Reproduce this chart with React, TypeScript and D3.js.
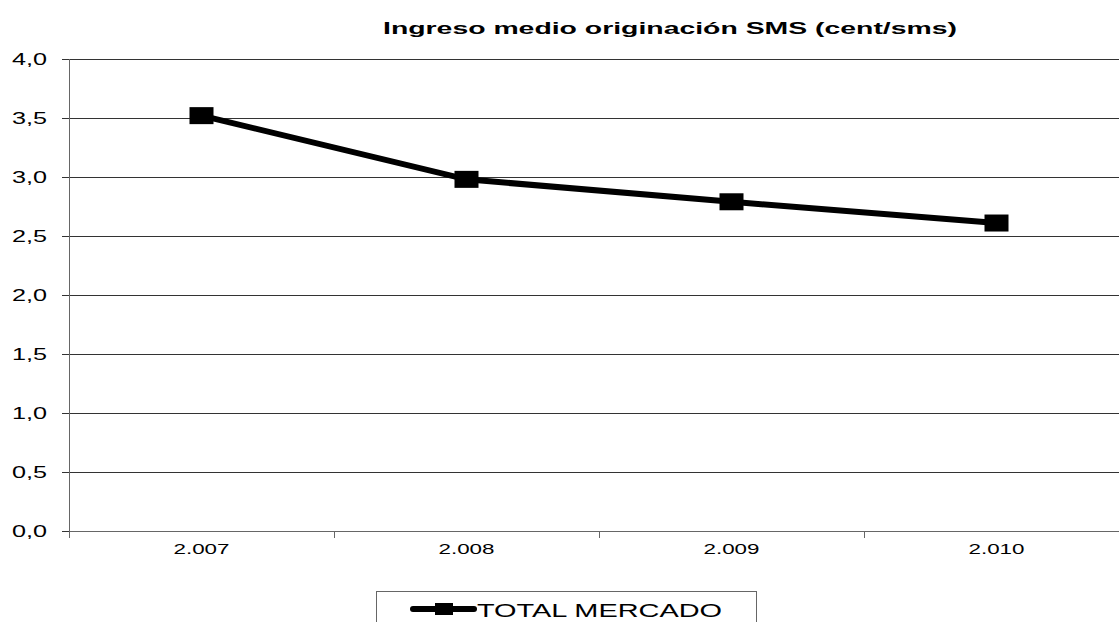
import React from "react";
import * as d3 from "d3";

const years = ["2.007", "2.008", "2.009", "2.010"];
const values = [3.52, 2.98, 2.79, 2.61];
const yTicks = [0, 0.5, 1, 1.5, 2, 2.5, 3, 3.5, 4];
const seriesName = "TOTAL MERCADO";
const title = "Ingreso medio originación SMS (cent/sms)";

export default function App() {
  const W = 1119, H = 622;
  const left = 69, right = 1129, top = 59, bottom = 531;
  const x = d3.scaleBand<string>().domain(years).range([left, right]).padding(0);
  const y = d3.scaleLinear().domain([0, 4]).range([bottom, top]);
  const fmt = (v: number) => v.toFixed(1).replace(".", ",");
  const line = d3
    .line<number>()
    .x((_, i) => (x(years[i]) as number) + x.bandwidth() / 2)
    .y((d) => y(d));
  const font = "'Liberation Sans', Arial, sans-serif";
  const mw = 24, mh = 17;
  return (
    <svg width={W} height={H} style={{ position: "absolute", left: 0, top: 0, background: "#fff" }} fontFamily={font}>
      <text x={383} y={34} fontSize={17} fontWeight="bold" textLength={574} lengthAdjust="spacingAndGlyphs">{title}</text>
      {yTicks.map((t) => (
        <g key={t}>
          {t > 0 && <line x1={left} x2={W} y1={Math.round(y(t)) + 0.5} y2={Math.round(y(t)) + 0.5} stroke="#333" strokeWidth={1} />}
          <line x1={62} x2={left} y1={Math.round(y(t)) + 0.5} y2={Math.round(y(t)) + 0.5} stroke="#333" strokeWidth={1} />
          <text x={12} y={y(t) + 5.5} fontSize={16.5} textLength={35} lengthAdjust="spacingAndGlyphs">{fmt(t)}</text>
        </g>
      ))}
      <line x1={left + 0.5} x2={left + 0.5} y1={top} y2={bottom} stroke="#666" strokeWidth={1} />
      <line x1={left} x2={W} y1={bottom + 0.5} y2={bottom + 0.5} stroke="#666" strokeWidth={1} />
      {years.map((yr, i) => (
        <line key={"t" + i} x1={Math.round((x(yr) as number)) + 0.5} x2={Math.round((x(yr) as number)) + 0.5} y1={bottom} y2={bottom + 7} stroke="#666" />
      ))}
      {years.map((yr) => (
        <text key={yr} x={(x(yr) as number) + x.bandwidth() / 2 - 28} y={554} fontSize={15} textLength={56} lengthAdjust="spacingAndGlyphs">{yr}</text>
      ))}
      <path d={line(values) || ""} fill="none" stroke="#000" strokeWidth={6} />
      {values.map((v, i) => (
        <rect key={i} x={(x(years[i]) as number) + x.bandwidth() / 2 - mw / 2} y={y(v) - mh / 2} width={mw} height={mh} fill="#000" />
      ))}
      <rect x={376.5} y={591.5} width={380} height={40} fill="#fff" stroke="#666" />
      <line x1={413} x2={474} y1={609} y2={609} stroke="#000" strokeWidth={6} strokeLinecap="round" />
      <rect x={435} y={603} width={18} height={12} fill="#000" />
      <text x={477} y={617} fontSize={19} textLength={245} lengthAdjust="spacingAndGlyphs">{seriesName}</text>
    </svg>
  );
}
